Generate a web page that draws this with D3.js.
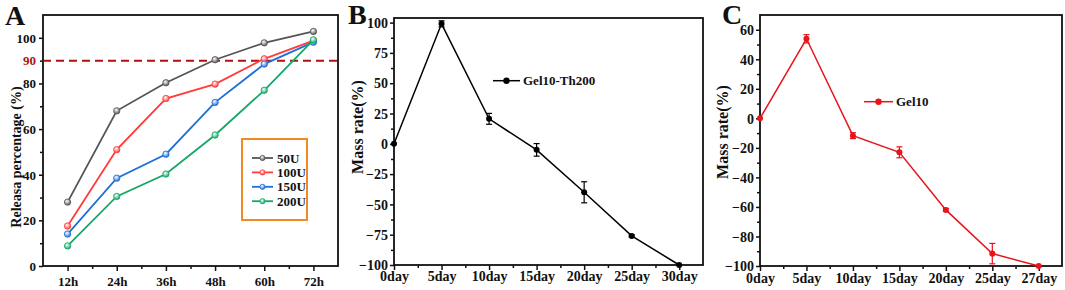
<!DOCTYPE html>
<html>
<head>
<meta charset="utf-8">
<script src="https://cdn.jsdelivr.net/npm/d3@7"></script>
<style>
  body { margin: 0; background: #fff; }
  svg { display: block; font-family: "Liberation Serif", "Times New Roman", serif; font-weight: bold; }
  svg text { font-family: "Liberation Serif", "Times New Roman", serif; font-weight: bold; }
</style>
</head>
<body>
<svg id="chart" width="1065" height="290"></svg>
<script>
// ---- data ----
const timeLabels = ["12h", "24h", "36h", "48h", "60h", "72h"]
const seriesNames = ["50U", "100U", "150U", "200U"]
const rel50 = [28, 68, 80.3, 90.4, 97.8, 102.8]
const rel100 = [17.5, 51, 73.4, 79.7, 90.8, 98.8]
const rel150 = [14, 38.5, 49, 71.7, 88.5, 98.1]
const rel200 = [8.8, 30.5, 40.3, 57.4, 77, 99.1]
const thresholdValue = 90

const dayLabelsB = ["0day", "5day", "10day", "15day", "20day", "25day", "30day"]
const massB = [0, 99, 20.6, -5, -40, -76, -100]
const errB = [0, 2.5, 4.5, 5.2, 8.7, 1, 0]
const dayLabelsC = ["0day", "5day", "10day", "15day", "20day", "25day", "27day"]
const massC = [0, 53.9, -11.7, -23, -62, -91.6, -100]
const errC = [0, 2.8, 2, 3.7, 1, 6.9, 0]

const svg = d3.select("#chart")
const defs = svg.append("defs")

// sphere-like marker fills for panel A
const seriesColors = ["#555555", "#ff3b3b", "#1f6fd6", "#14a866"]
seriesColors.forEach((c, i) => {
  const g = defs.append("radialGradient").attr("id", "ball" + i)
    .attr("cx", "40%").attr("cy", "35%").attr("r", "65%")
  g.append("stop").attr("offset", "0%").attr("stop-color", "#ffffff")
  g.append("stop").attr("offset", "100%").attr("stop-color", c)
})

function drawFrame(p) {
  const g = svg.append("g")
  const x = d3.scaleLinear().domain(p.xDomain).range([p.left, p.right])
  const y = d3.scaleLinear().domain(p.yDomain).range([p.bottom, p.top])

  // minor ticks
  const xMinor = d3.axisBottom(x).tickValues(p.xMinor).tickSize(3).tickFormat("").tickSizeOuter(0)
  const yMinor = d3.axisLeft(y).tickValues(p.yMinor).tickSize(3).tickFormat("").tickSizeOuter(0)
  g.append("g").attr("transform", `translate(0,${p.bottom})`).call(xMinor)
  g.append("g").attr("transform", `translate(${p.left},0)`).call(yMinor)

  // major ticks
  const xAxis = d3.axisBottom(x).tickValues(d3.range(p.xLabels.length).map(i => i + p.xStart))
    .tickFormat((d, i) => p.xLabels[i]).tickSize(5).tickSizeOuter(0)
  const yAxis = d3.axisLeft(y).tickValues(p.yTicks).tickSize(4).tickSizeOuter(0)
  const gx = g.append("g").attr("transform", `translate(0,${p.bottom})`).call(xAxis)
  const gy = g.append("g").attr("transform", `translate(${p.left},0)`).call(yAxis)
  g.selectAll("g").attr("font-family", null).attr("font-size", null)
  gx.selectAll("text").attr("y", p.xLabelY).attr("dy", 0)
    .style("font-size", p.font + "px").attr("fill", "#111")
  gy.selectAll("text").attr("x", -p.yLabelGap).attr("dy", "0.34em")
    .style("font-size", p.font + "px").attr("fill", "#111")
  g.selectAll(".domain").remove()
  g.selectAll(".tick line").attr("stroke", "#111").attr("stroke-width", 1.5)

  // frame
  g.append("rect").attr("x", p.left).attr("y", p.top)
    .attr("width", p.right - p.left).attr("height", p.bottom - p.top)
    .attr("fill", "none").attr("stroke", "#111").attr("stroke-width", 1.8)

  // titles
  g.append("text").attr("transform", `translate(${p.titleX},${p.titleY}) rotate(-90)`)
    .attr("text-anchor", "middle").style("font-size", p.titleFont + "px").attr("fill", "#111")
    .text(p.yTitle)
  g.append("text").attr("x", p.letterX).attr("y", p.letterY)
    .style("font-size", "28px").attr("fill", "#111").text(p.letter)
  return { x, y }
}

// ---- Panel A ----
const A = drawFrame({
  left: 43, right: 338, top: 15, bottom: 266,
  xDomain: [-0.5, 5.5], yDomain: [0, 110], xStart: 0,
  xLabels: timeLabels, xMinor: [0.5, 1.5, 2.5, 3.5, 4.5],
  yTicks: [0, 20, 40, 60, 80, 100], yMinor: [10, 30, 50, 70, 90],
  xLabelY: 19.5, yLabelGap: 7, font: 13,
  yTitle: "Releasa percentage (%)", titleX: 21, titleY: 157, titleFont: 14,
  letter: "A", letterX: 5, letterY: 24.5
})

// threshold line and red label
svg.append("line")
  .attr("x1", A.x(-0.5)).attr("x2", A.x(5.5))
  .attr("y1", A.y(thresholdValue)).attr("y2", A.y(thresholdValue))
  .attr("stroke", "#b01010").attr("stroke-width", 2).attr("stroke-dasharray", "8,5")
svg.append("text").attr("x", A.x(-0.5) - 7).attr("y", A.y(thresholdValue)).attr("dy", "0.34em")
  .attr("text-anchor", "end").style("font-size", "13px").attr("fill", "#b01010").text(thresholdValue)

const seriesA = [rel50, rel100, rel150, rel200]
const lineA = d3.line().x((d, i) => A.x(i)).y(d => A.y(d))
seriesA.forEach((vals, k) => {
  svg.append("path").datum(vals).attr("d", lineA)
    .attr("fill", "none").attr("stroke", seriesColors[k]).attr("stroke-width", 1.8)
  svg.append("g").selectAll("circle").data(vals).join("circle")
    .attr("cx", (d, i) => A.x(i)).attr("cy", d => A.y(d)).attr("r", 3.2)
    .attr("fill", `url(#ball${k})`).attr("stroke", seriesColors[k]).attr("stroke-width", 0.8)
})

// legend A
const legA = svg.append("g")
legA.append("rect").attr("x", 242).attr("y", 139).attr("width", 65).attr("height", 81)
  .attr("fill", "#fff").attr("stroke", "#f08a24").attr("stroke-width", 2)
seriesNames.forEach((name, k) => {
  const yy = 158 + k * 14.4
  legA.append("line").attr("x1", 252).attr("x2", 273).attr("y1", yy).attr("y2", yy)
    .attr("stroke", seriesColors[k]).attr("stroke-width", 1.8)
  legA.append("circle").attr("cx", 262.5).attr("cy", yy).attr("r", 2.6)
    .attr("fill", `url(#ball${k})`).attr("stroke", seriesColors[k]).attr("stroke-width", 0.8)
  legA.append("text").attr("x", 277).attr("y", yy).attr("dy", "0.35em")
    .style("font-size", "13px").attr("fill", "#111").text(name)
})

// ---- Panels B and C ----
function massPanel(cfg, labels, vals, errs, color, legendName, leg) {
  const P = drawFrame(Object.assign({
    xDomain: [0, 6.5], xStart: 0, xLabels: labels,
    xMinor: [0.5, 1.5, 2.5, 3.5, 4.5, 5.5],
    yLabelGap: 6, font: 14, yTitle: "Mass rate(%)", titleFont: 16
  }, cfg))
  const line = d3.line().x((d, i) => P.x(i)).y(d => P.y(d))
  svg.append("path").datum(vals).attr("d", line)
    .attr("fill", "none").attr("stroke", color).attr("stroke-width", 1.5)
  const eb = svg.append("g").attr("stroke", color).attr("stroke-width", 1.2)
  vals.forEach((v, i) => {
    if (!errs[i]) return
    const cx = P.x(i)
    eb.append("line").attr("x1", cx).attr("x2", cx).attr("y1", P.y(v - errs[i])).attr("y2", P.y(v + errs[i]))
    eb.append("line").attr("x1", cx - 3).attr("x2", cx + 3).attr("y1", P.y(v - errs[i])).attr("y2", P.y(v - errs[i]))
    eb.append("line").attr("x1", cx - 3).attr("x2", cx + 3).attr("y1", P.y(v + errs[i])).attr("y2", P.y(v + errs[i]))
  })
  svg.append("g").selectAll("circle").data(vals).join("circle")
    .attr("cx", (d, i) => P.x(i)).attr("cy", d => P.y(d)).attr("r", 3).attr("fill", color)
  // legend
  svg.append("line").attr("x1", leg.x1).attr("x2", leg.x2).attr("y1", leg.y).attr("y2", leg.y)
    .attr("stroke", color).attr("stroke-width", 1.5)
  svg.append("circle").attr("cx", (leg.x1 + leg.x2) / 2).attr("cy", leg.y).attr("r", 3.2).attr("fill", color)
  svg.append("text").attr("x", leg.x2 + 3).attr("y", leg.y).attr("dy", "0.35em")
    .style("font-size", "13px").attr("fill", "#111").text(legendName)
}

massPanel({
  left: 394, right: 703, top: 18, bottom: 265,
  yDomain: [-100, 103.8], yTicks: [-100, -75, -50, -25, 0, 25, 50, 75, 100],
  yMinor: d3.range(-87.5, 100, 25), xLabelY: 16,
  titleX: 363, titleY: 127, letter: "B", letterX: 348, letterY: 24
}, dayLabelsB, massB, errB, "#000000", "Gel10-Th200", { x1: 493, x2: 520, y: 80.7 })

massPanel({
  left: 760, right: 1062, top: 15, bottom: 266,
  yDomain: [-100, 70], yTicks: [-100, -80, -60, -40, -20, 0, 20, 40, 60],
  yMinor: d3.range(-90, 70, 20), xLabelY: 17,
  titleX: 728, titleY: 132, letter: "C", letterX: 722, letterY: 24
}, dayLabelsC, massC, errC, "#e8141a", "Gel10", { x1: 864, x2: 893, y: 101.7 })
</script>
</body>
</html>
